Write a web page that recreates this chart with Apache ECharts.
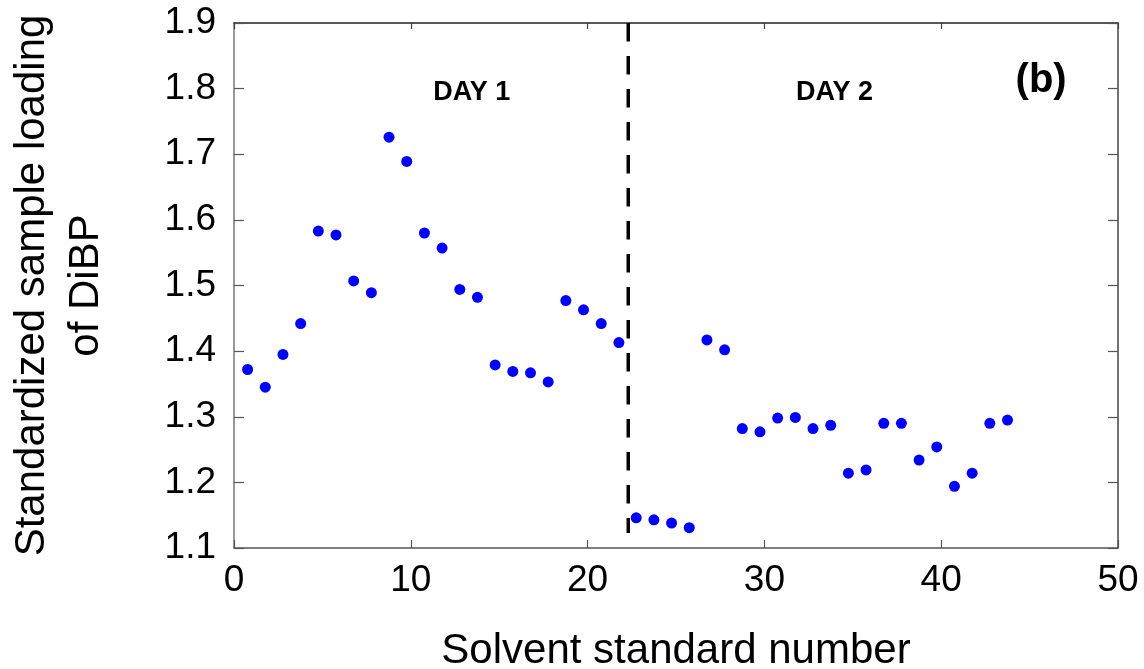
<!DOCTYPE html>
<html>
<head>
<meta charset="utf-8">
<script src="https://cdn.jsdelivr.net/npm/echarts@6/dist/echarts.min.js"></script>
<style>
html,body{margin:0;padding:0;background:#fff;}
#chart{width:1144px;height:669px;}
</style>
</head>
<body>
<div id="chart"></div>
<script>
// Solvent standard number (x) and standardized sample loading of DiBP (y)
const standardNumber = [0.77, 1.77, 2.77, 3.77, 4.77, 5.77, 6.77, 7.77, 8.77, 9.77,
  10.77, 11.77, 12.77, 13.77, 14.77, 15.77, 16.77, 17.77, 18.77, 19.77, 20.77, 21.77,
  22.75, 23.75, 24.75, 25.75, 26.75, 27.75, 28.75, 29.75, 30.75, 31.75, 32.75, 33.75,
  34.75, 35.75, 36.75, 37.75, 38.75, 39.75, 40.75, 41.75, 42.75, 43.75];
const loading = [1.372, 1.345, 1.395, 1.442, 1.583, 1.577, 1.507, 1.489, 1.726, 1.689,
  1.580, 1.557, 1.494, 1.482, 1.379, 1.369, 1.367, 1.353, 1.477, 1.463, 1.442, 1.413,
  1.146, 1.143, 1.138, 1.131, 1.417, 1.402, 1.282, 1.277, 1.298, 1.299, 1.282, 1.287,
  1.214, 1.219, 1.290, 1.290, 1.234, 1.254, 1.194, 1.214, 1.290, 1.295];
const dayDividerX = 22.3;
const dividerY = [1.9, 1.123];
const annotations = [
  {x: 13.45, y: 1.794, text: 'DAY 1', size: 27},
  {x: 33.96, y: 1.794, text: 'DAY 2', size: 27},
  {x: 45.65, y: 1.812, text: '(b)', size: 40}
];
const xMin = 0, xMax = 50, xStep = 10;
const yMin = 1.1, yMax = 1.9, yStep = 0.1;
const xTitle = 'Solvent standard number';
const yTitle = 'Standardized sample loading\nof DiBP';

const FONT = "'Liberation Sans', Arial, sans-serif";
const points = standardNumber.map((x, i) => [x, loading[i]]);

const chart = echarts.init(document.getElementById('chart'));
chart.setOption({
  animation: false,
  backgroundColor: '#fff',
  grid: {left: 234, right: 26, top: 23, bottom: 121, containLabel: false, outerBoundsMode: 'none'},
  xAxis: [{
    type: 'value', min: xMin, max: xMax, interval: xStep,
    name: xTitle, nameLocation: 'middle', nameGap: 82,
    nameTextStyle: {fontFamily: FONT, fontSize: 42, color: '#000'},
    axisLine: {show: true, onZero: false, lineStyle: {color: '#555', width: 1.5}},
    axisTick: {show: true, inside: true, length: 8, lineStyle: {color: '#555', width: 1.2}},
    axisLabel: {fontFamily: FONT, fontSize: 37, color: '#000', margin: 14},
    splitLine: {show: false}
  }, {
    type: 'value', position: 'top', min: xMin, max: xMax, interval: xStep,
    axisLine: {show: true, onZero: false, lineStyle: {color: '#222', width: 1.5}},
    axisTick: {show: true, inside: true, length: 6, lineStyle: {color: '#444', width: 1.2}},
    axisLabel: {show: false}, splitLine: {show: false}
  }],
  yAxis: [{
    type: 'value', min: yMin, max: yMax, interval: yStep,
    name: yTitle, nameLocation: 'middle', nameGap: 121, nameRotate: 90,
    nameTextStyle: {fontFamily: FONT, fontSize: 42, color: '#000', lineHeight: 54, align: 'center'},
    axisLine: {show: true, onZero: false, lineStyle: {color: '#777', width: 1.5}},
    axisTick: {show: true, inside: true, length: 10, lineStyle: {color: '#555', width: 1.2}},
    axisLabel: {fontFamily: FONT, fontSize: 37, color: '#000', margin: 18,
      formatter: v => v.toFixed(1)},
    splitLine: {show: false}
  }, {
    type: 'value', position: 'right', min: yMin, max: yMax, interval: yStep,
    axisLine: {show: true, onZero: false, lineStyle: {color: '#444', width: 1.5}},
    axisTick: {show: true, inside: true, length: 10, lineStyle: {color: '#555', width: 1.2}},
    axisLabel: {show: false}, splitLine: {show: false}
  }],
  series: [{
    type: 'line',
    data: dividerY.map(y => [dayDividerX, y]),
    symbol: 'none',
    lineStyle: {color: '#000', width: 3.5, type: [18.5, 14.5]},
    silent: true, z: 2
  }, {
    type: 'scatter',
    data: points,
    symbol: 'circle', symbolSize: 11,
    itemStyle: {color: '#0000ff', opacity: 1},
    z: 3
  }, {
    type: 'scatter',
    data: annotations.map(a => ({value: [a.x, a.y], label: {
      show: true, position: 'inside', formatter: a.text,
      fontFamily: FONT, fontWeight: 'bold', fontSize: a.size, color: '#000'}})),
    symbolSize: 0,
    itemStyle: {opacity: 1},
    silent: true, z: 4
  }]
});
</script>
</body>
</html>
